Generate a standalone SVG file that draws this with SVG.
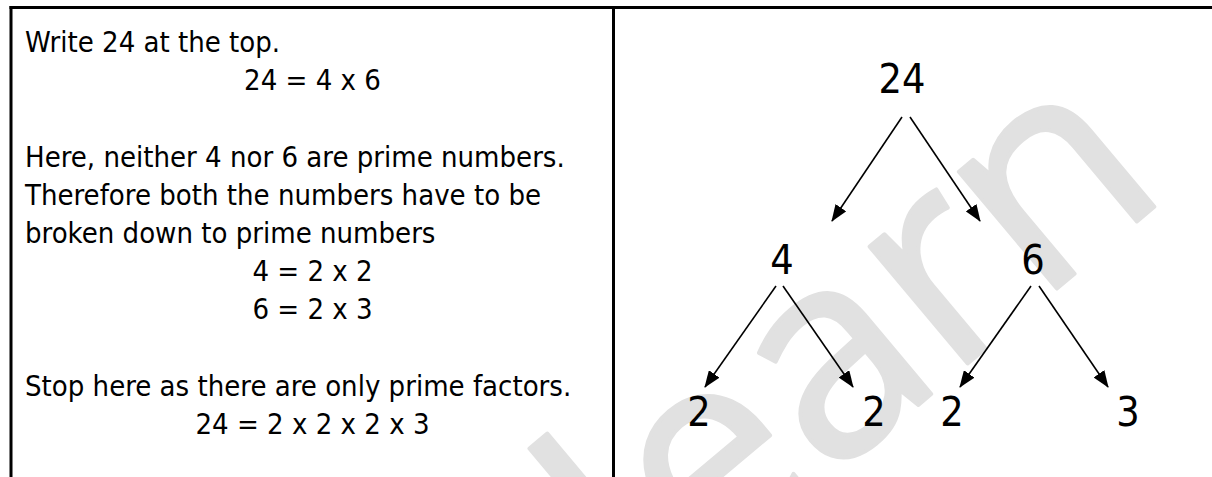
<svg xmlns="http://www.w3.org/2000/svg" width="1212" height="477" viewBox="0 0 1212 477">
  <style>
    .txt { font-family: "DejaVu Sans Condensed", "DejaVu Sans", sans-serif; font-size: 29px; fill: #000; }
    .mid { text-anchor: middle; }
    .num { font-family: "DejaVu Sans Condensed", "DejaVu Sans", sans-serif; font-size: 41px; fill: #000; text-anchor: middle; }
    .rule { stroke: #000; stroke-width: 3; fill: none; }
    .arrow { stroke: #000; stroke-width: 1.6; fill: none; marker-end: url(#head); }
    .wm { font-family: "Open Sans", "DejaVu Sans", sans-serif; font-size: 285px; fill: #e1e1e1; stroke: #e1e1e1; stroke-width: 4; stroke-linejoin: round; }
  </style>
  <defs>
    <marker id="head" markerUnits="userSpaceOnUse" viewBox="0 0 17 13" refX="16" refY="6.5" markerWidth="17" markerHeight="13" orient="auto">
      <path d="M0,0 L17,6.5 L0,13 z" fill="#000"/>
    </marker>
  </defs>
  <rect width="1212" height="477" fill="#fff"/>

  <g id="watermark">
    <text class="wm" transform="translate(650,630) rotate(-40)">learn</text>
  </g>

  <g id="table">
    <line class="rule" x1="9.5" y1="7.5" x2="1212" y2="7.5"/>
    <line class="rule" x1="11" y1="6" x2="11" y2="477"/>
    <line class="rule" x1="613.5" y1="6" x2="613.5" y2="477"/>
  </g>

  <g id="explanation">
    <text class="txt" x="25" y="52">Write 24 at the top.</text>
    <text class="txt mid" x="312.5" y="90">24 = 4 x 6</text>
    <text class="txt" x="25" y="167">Here, neither 4 nor 6 are prime numbers.</text>
    <text class="txt" x="25" y="205">Therefore both the numbers have to be</text>
    <text class="txt" x="25" y="243">broken down to prime numbers</text>
    <text class="txt mid" x="312.5" y="281">4 = 2 x 2</text>
    <text class="txt mid" x="312.5" y="319">6 = 2 x 3</text>
    <text class="txt" x="25" y="396">Stop here as there are only prime factors.</text>
    <text class="txt mid" x="312.5" y="434">24 = 2 x 2 x 2 x 3</text>
  </g>

  <g id="node-24"><text class="num" x="902" y="93">24</text></g>
  <g id="node-4"><text class="num" x="782" y="274">4</text></g>
  <g id="node-6"><text class="num" x="1033" y="274">6</text></g>
  <g id="node-2a"><text class="num" x="699" y="426">2</text></g>
  <g id="node-2b"><text class="num" x="874" y="426">2</text></g>
  <g id="node-2c"><text class="num" x="952" y="426">2</text></g>
  <g id="node-3"><text class="num" x="1128" y="426">3</text></g>

  <g id="connectors">
    <line class="arrow" x1="902" y1="117" x2="832" y2="221"/>
    <line class="arrow" x1="910" y1="117" x2="980" y2="221"/>
    <line class="arrow" x1="776" y1="286" x2="705" y2="387"/>
    <line class="arrow" x1="783" y1="286" x2="853" y2="387"/>
    <line class="arrow" x1="1031" y1="286" x2="960" y2="387"/>
    <line class="arrow" x1="1039" y1="286" x2="1108" y2="387"/>
  </g>
</svg>
